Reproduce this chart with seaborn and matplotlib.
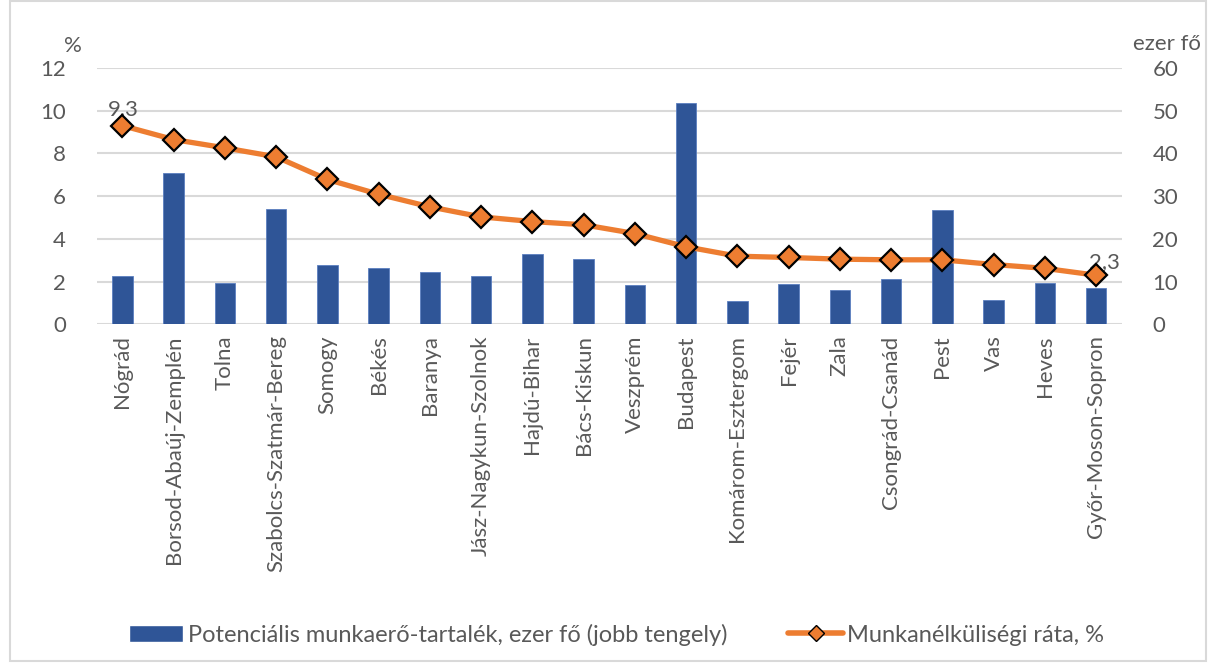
import matplotlib
matplotlib.use("Agg")
import matplotlib.pyplot as plt
from matplotlib.patches import Rectangle
from matplotlib.lines import Line2D
from matplotlib.patches import Patch
import seaborn as sns

# megyék, munkanélküliségi ráta szerint csökkenő sorrendben
counties = ['Nógrád', 'Borsod-Abaúj-Zemplén', 'Tolna', 'Szabolcs-Szatmár-Bereg', 'Somogy',
            'Békés', 'Baranya', 'Jász-Nagykun-Szolnok', 'Hajdú-Bihar', 'Bács-Kiskun',
            'Veszprém', 'Budapest', 'Komárom-Esztergom', 'Fejér', 'Zala',
            'Csongrád-Csanád', 'Pest', 'Vas', 'Heves', 'Győr-Moson-Sopron']
reserve = [11.3, 35.3, 9.6, 26.9, 13.9, 13.2, 12.2, 11.3, 16.5, 15.2,
           9.3, 51.7, 5.5, 9.4, 8.0, 10.5, 26.7, 5.8, 9.7, 8.6]
unemp_rate = [9.3, 8.65, 8.26, 7.84, 6.78, 6.09, 5.5, 5.03, 4.81, 4.66,
              4.25, 3.63, 3.19, 3.13, 3.05, 3.02, 3.02, 2.8, 2.62, 2.3]
left_ticks = [0, 2, 4, 6, 8, 10, 12]
right_ticks = [0, 10, 20, 30, 40, 50, 60]

BLUE = '#2F5597'
ORANGE = '#ED7D31'
GREY = '#595959'
FS = 16

sns.set_style('white')
plt.rcParams['font.family'] = ['Lato', 'DejaVu Sans']
plt.rcParams['font.size'] = FS

fig = plt.figure(figsize=(12.16, 6.66), dpi=100)
ax = fig.add_axes([0.0795, 0.513, 0.843, 0.385])

# oszlopok a jobb tengelyen (alsó réteg)
sns.barplot(x=counties, y=reserve, ax=ax, color=BLUE, width=0.4, saturation=1,
            edgecolor='#5B7FC0', linewidth=0.6)
ax.set_ylim(0, 60)
ax.set_yticks(right_ticks)

ax2 = ax.twinx()
ax.yaxis.tick_right()
ax2.yaxis.tick_left()
ax2.yaxis.set_label_position('left')

sns.pointplot(x=counties, y=unemp_rate, ax=ax2, color=ORANGE, markers='D',
              linewidth=3.8, markersize=11)
for ln in ax2.lines:
    ln.set_markeredgecolor('black')
    ln.set_markerfacecolor(ORANGE)
    ln.set_markeredgewidth(1.6)
    ln.set_zorder(5)
ax2.set_ylim(0, 12)
ax2.set_yticks(left_ticks)
ax2.set_ylabel('')
ax2.set_xlim(-0.5, len(counties) - 0.5)

# rácsvonalak
for y in right_ticks:
    ax.axhline(y, color='#D9D9D9', lw=1.5, zorder=0)
for a in (ax, ax2):
    for s in a.spines.values():
        s.set_visible(False)
    a.tick_params(axis='both', length=0, colors=GREY, labelsize=FS)

ax.tick_params(axis='y', pad=22)
ax2.tick_params(axis='y', pad=22)
ax.set_xticks(range(len(counties)))
ax.set_xticklabels(counties, rotation=90, color=GREY, fontsize=FS)
ax.tick_params(axis='x', pad=8)

# adatcímkék
ax2.annotate('9,3', (0, unemp_rate[0]), xytext=(1, 5), textcoords='offset points',
             ha='center', va='bottom', color=GREY, fontsize=FS)
ax2.annotate('2,3', (len(counties) - 1, unemp_rate[-1]), xytext=(-5, 2), textcoords='offset points',
             ha='left', va='bottom', color=GREY, fontsize=FS)

fig.text(0.060, 0.922, '%', color=GREY, fontsize=FS, ha='center')
fig.text(0.960, 0.925, 'ezer fő', color=GREY, fontsize=FS, ha='center')

handles = [Patch(facecolor=BLUE),
           Line2D([0], [0], color=ORANGE, lw=4, marker='D', markersize=8,
                  markerfacecolor=ORANGE, markeredgecolor='black')]
labels = ['Potenciális munkaerő-tartalék, ezer fő (jobb tengely)', 'Munkanélküliségi ráta, %']
fig.legend(handles, labels, loc='center', bbox_to_anchor=(0.507, 0.047), ncol=2,
           frameon=False, fontsize=17, labelcolor=GREY, columnspacing=2.6,
           handlelength=2.3, handletextpad=0.2)

fig.patches.append(Rectangle((0.008, 0.008), 0.984, 0.99, transform=fig.transFigure,
                             fill=False, edgecolor='#D9D9D9', lw=1.5))

fig.savefig('out.png', dpi=100)
